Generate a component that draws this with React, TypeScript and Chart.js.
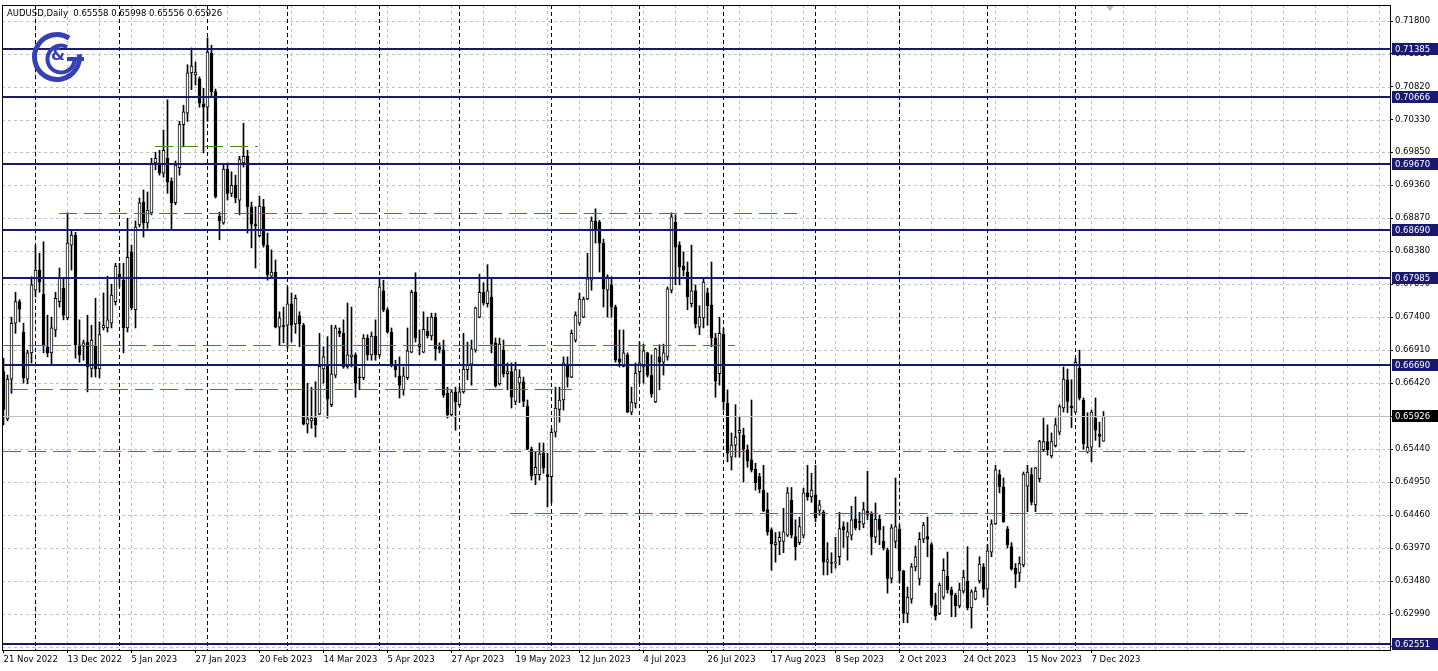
import React, { useEffect, useRef } from 'react';
import { Chart, registerables } from 'chart.js';

Chart.register(...registerables);

// ---------------- data ----------------
const chartTitle = 'AUDUSD,Daily';
const dateLabels = ['21 Nov 2022', '13 Dec 2022', '5 Jan 2023', '27 Jan 2023', '20 Feb 2023', '14 Mar 2023', '5 Apr 2023', '27 Apr 2023', '19 May 2023', '12 Jun 2023', '4 Jul 2023', '26 Jul 2023', '17 Aug 2023', '8 Sep 2023', '2 Oct 2023', '24 Oct 2023', '15 Nov 2023', '7 Dec 2023'];
const barsPerDateLabel = 16;
const barsPerGridLine = 8;
const monthStartBars = [8, 29, 51, 71, 94, 114, 137, 159, 180, 203, 224, 246, 268];
const priceTicks = [0.718, 0.7131, 0.7082, 0.7033, 0.6985, 0.6936, 0.6887, 0.6838, 0.6789, 0.674, 0.6691, 0.6642, 0.6593, 0.6544, 0.6495, 0.6446, 0.6397, 0.6348, 0.6299, 0.625];
const priceMin = 0.62455;
const priceMax = 0.72038;
const barMin = -0.375;
const barMax = 346.625;
const shiftMarkerBar = 276.6;

const opens = [
  0.6659, 0.6589, 0.6648, 0.6731, 0.6763, 0.6718, 0.6648, 0.6687, 0.6780, 0.6810,
  0.6774, 0.6696, 0.6687, 0.6721, 0.6763, 0.6783, 0.6739, 0.6847, 0.6862, 0.6699,
  0.6697, 0.6703, 0.6664, 0.6697, 0.6663, 0.6724, 0.6724, 0.6731, 0.6763, 0.6804,
  0.6795, 0.6724, 0.6837, 0.6751, 0.6877, 0.6911, 0.6880, 0.6895, 0.6969, 0.6969,
  0.6954, 0.6976, 0.6942, 0.6910, 0.6962, 0.7026, 0.7043, 0.7103, 0.7100, 0.7094,
  0.7057, 0.7052, 0.7132, 0.7075, 0.6890, 0.6880, 0.6960, 0.6924, 0.6936, 0.6914,
  0.6969, 0.6979, 0.6904, 0.6877, 0.6861, 0.6904, 0.6847, 0.6801, 0.6807, 0.6725,
  0.6727, 0.6728, 0.6760, 0.6730, 0.6742, 0.6728, 0.6581, 0.6586, 0.6590, 0.6596,
  0.6663, 0.6669, 0.6610, 0.6654, 0.6719, 0.6716, 0.6666, 0.6681, 0.6684, 0.6651,
  0.6650, 0.6709, 0.6684, 0.6712, 0.6684, 0.6779, 0.6751, 0.6718, 0.6669, 0.6653,
  0.6632, 0.6650, 0.6688, 0.6777, 0.6696, 0.6688, 0.6719, 0.6712, 0.6740, 0.6696,
  0.6691, 0.6627, 0.6595, 0.6629, 0.6610, 0.6629, 0.6662, 0.6670, 0.6691, 0.6740,
  0.6777, 0.6760, 0.6770, 0.6702, 0.6641, 0.6691, 0.6656, 0.6659, 0.6615, 0.6642,
  0.6644, 0.6608, 0.6544, 0.6506, 0.6506, 0.6538, 0.6506, 0.6503, 0.6569, 0.6603,
  0.6617, 0.6670, 0.6651, 0.6706, 0.6731, 0.6740, 0.6767, 0.6795, 0.6883, 0.6881,
  0.6850, 0.6780, 0.6788, 0.6755, 0.6678, 0.6667, 0.6684, 0.6599, 0.6612, 0.6659,
  0.6666, 0.6687, 0.6654, 0.6614, 0.6681, 0.6673, 0.6681, 0.6780, 0.6881, 0.6847,
  0.6816, 0.6807, 0.6760, 0.6779, 0.6725, 0.6739, 0.6776, 0.6758, 0.6709, 0.6656,
  0.6715, 0.6612, 0.6532, 0.6550, 0.6568, 0.6565, 0.6543, 0.6528, 0.6514, 0.6503,
  0.6483, 0.6454, 0.6424, 0.6402, 0.6407, 0.6407, 0.6416, 0.6468, 0.6414, 0.6405,
  0.6416, 0.6479, 0.6473, 0.6476, 0.6453, 0.6450, 0.6376, 0.6375, 0.6375, 0.6384,
  0.6429, 0.6413, 0.6416, 0.6440, 0.6436, 0.6433, 0.6452, 0.6449, 0.6413, 0.6440,
  0.6407, 0.6394, 0.6352, 0.6407, 0.6425, 0.6363, 0.6300, 0.6321, 0.6369, 0.6351,
  0.6410, 0.6414, 0.6402, 0.6312, 0.6300, 0.6324, 0.6355, 0.6335, 0.6327, 0.6311,
  0.6333, 0.6348, 0.6308, 0.6321, 0.6348, 0.6369, 0.6336, 0.6391, 0.6433, 0.6506,
  0.6488, 0.6425, 0.6399, 0.6367, 0.6360, 0.6372, 0.6489, 0.6506, 0.6461, 0.6500,
  0.6543, 0.6555, 0.6534, 0.6549, 0.6569, 0.6605, 0.6647, 0.6608, 0.6599, 0.6664,
  0.6617, 0.6540, 0.6547, 0.6590, 0.6566, 0.65558,
];
const highs = [
  0.6679, 0.6654, 0.6740, 0.6777, 0.6766, 0.6731, 0.6691, 0.6800, 0.6847, 0.6835,
  0.6852, 0.6743, 0.6740, 0.6777, 0.6813, 0.6798, 0.6895, 0.6870, 0.6866, 0.6736,
  0.6706, 0.6743, 0.6728, 0.6768, 0.6733, 0.6776, 0.6801, 0.6789, 0.6820, 0.6820,
  0.6820, 0.6887, 0.6847, 0.6883, 0.6917, 0.6929, 0.6926, 0.6976, 0.6985, 0.6988,
  0.7018, 0.7063, 0.6947, 0.6972, 0.7031, 0.7055, 0.7115, 0.7140, 0.7119, 0.7097,
  0.7080, 0.7155, 0.7144, 0.7079, 0.6896, 0.6966, 0.6969, 0.6956, 0.6951, 0.6979,
  0.7028, 0.6988, 0.6911, 0.6904, 0.6920, 0.6915, 0.6865, 0.6840, 0.6825, 0.6748,
  0.6755, 0.6785, 0.6776, 0.6773, 0.6748, 0.6731, 0.6642, 0.6636, 0.6644, 0.6716,
  0.6696, 0.6711, 0.6728, 0.6728, 0.6724, 0.6736, 0.6761, 0.6755, 0.6687, 0.6664,
  0.6714, 0.6714, 0.6718, 0.6736, 0.6797, 0.6795, 0.6754, 0.6724, 0.6676, 0.6681,
  0.6666, 0.6724, 0.6780, 0.6806, 0.6721, 0.6748, 0.6740, 0.6746, 0.6746, 0.6702,
  0.6706, 0.6636, 0.6632, 0.6636, 0.6636, 0.6716, 0.6703, 0.6706, 0.6755, 0.6804,
  0.6791, 0.6818, 0.6798, 0.6709, 0.6709, 0.6706, 0.6672, 0.6672, 0.6673, 0.6662,
  0.6651, 0.6617, 0.6547, 0.6540, 0.6553, 0.6553, 0.6538, 0.6575, 0.6636, 0.6636,
  0.6681, 0.6681, 0.6721, 0.6748, 0.6776, 0.6770, 0.6835, 0.6889, 0.6901, 0.6884,
  0.6856, 0.6803, 0.6800, 0.6758, 0.6721, 0.6721, 0.6687, 0.6636, 0.6672, 0.6703,
  0.6700, 0.6688, 0.6684, 0.6694, 0.6699, 0.6700, 0.6785, 0.6895, 0.6892, 0.6852,
  0.6837, 0.6822, 0.6847, 0.6788, 0.6757, 0.6797, 0.6783, 0.6822, 0.6716, 0.6740,
  0.6724, 0.6632, 0.6568, 0.6610, 0.6592, 0.6575, 0.6550, 0.6617, 0.6523, 0.6508,
  0.6520, 0.6479, 0.6427, 0.6420, 0.6421, 0.6456, 0.6487, 0.6487, 0.6439, 0.6443,
  0.6486, 0.6520, 0.6508, 0.6520, 0.6468, 0.6453, 0.6405, 0.6390, 0.6413, 0.6450,
  0.6436, 0.6435, 0.6459, 0.6473, 0.6450, 0.6465, 0.6511, 0.6451, 0.6464, 0.6446,
  0.6429, 0.6397, 0.6432, 0.6501, 0.6432, 0.6364, 0.6339, 0.6374, 0.6400, 0.6420,
  0.6435, 0.6443, 0.6405, 0.6330, 0.6345, 0.6381, 0.6391, 0.6339, 0.6330, 0.6345,
  0.6364, 0.6399, 0.6335, 0.6339, 0.6384, 0.6374, 0.6402, 0.6439, 0.6520, 0.6513,
  0.6501, 0.6429, 0.6405, 0.6374, 0.6384, 0.6510, 0.6520, 0.6516, 0.6517, 0.6557,
  0.6590, 0.6580, 0.6568, 0.6590, 0.6610, 0.6666, 0.6663, 0.6647, 0.6679, 0.6691,
  0.6620, 0.6598, 0.6602, 0.6620, 0.6584, 0.65998,
];
const lows = [
  0.6580, 0.6586, 0.6627, 0.6716, 0.6733, 0.6642, 0.6641, 0.6672, 0.6770, 0.6777,
  0.6687, 0.6681, 0.6669, 0.6711, 0.6755, 0.6736, 0.6736, 0.6810, 0.6679, 0.6673,
  0.6676, 0.6629, 0.6651, 0.6651, 0.6650, 0.6721, 0.6718, 0.6724, 0.6758, 0.6785,
  0.6687, 0.6718, 0.6751, 0.6724, 0.6874, 0.6859, 0.6872, 0.6892, 0.6959, 0.6951,
  0.6948, 0.6924, 0.6870, 0.6907, 0.6951, 0.6993, 0.7031, 0.7078, 0.7085, 0.7052,
  0.6984, 0.7031, 0.7067, 0.6917, 0.6855, 0.6878, 0.6914, 0.6919, 0.6910, 0.6892,
  0.6963, 0.6865, 0.6843, 0.6813, 0.6859, 0.6844, 0.6795, 0.6798, 0.6724, 0.6699,
  0.6702, 0.6694, 0.6703, 0.6716, 0.6696, 0.6580, 0.6568, 0.6575, 0.6562, 0.6595,
  0.6642, 0.6590, 0.6607, 0.6650, 0.6711, 0.6664, 0.6664, 0.6666, 0.6621, 0.6632,
  0.6647, 0.6676, 0.6676, 0.6676, 0.6681, 0.6748, 0.6716, 0.6666, 0.6651, 0.6620,
  0.6624, 0.6647, 0.6687, 0.6703, 0.6684, 0.6687, 0.6709, 0.6706, 0.6676, 0.6687,
  0.6621, 0.6590, 0.6592, 0.6572, 0.6607, 0.6627, 0.6647, 0.6639, 0.6688, 0.6739,
  0.6758, 0.6755, 0.6687, 0.6636, 0.6639, 0.6651, 0.6632, 0.6605, 0.6610, 0.6613,
  0.6607, 0.6543, 0.6498, 0.6491, 0.6498, 0.6508, 0.6458, 0.6464, 0.6562, 0.6584,
  0.6602, 0.6636, 0.6650, 0.6703, 0.6728, 0.6739, 0.6766, 0.6780, 0.6850, 0.6807,
  0.6755, 0.6740, 0.6740, 0.6673, 0.6666, 0.6666, 0.6598, 0.6595, 0.6605, 0.6642,
  0.6642, 0.6651, 0.6621, 0.6613, 0.6632, 0.6654, 0.6676, 0.6776, 0.6788, 0.6788,
  0.6801, 0.6751, 0.6755, 0.6724, 0.6714, 0.6724, 0.6728, 0.6696, 0.6621, 0.6639,
  0.6602, 0.6525, 0.6513, 0.6532, 0.6532, 0.6495, 0.6517, 0.6510, 0.6483, 0.6479,
  0.6451, 0.6416, 0.6364, 0.6376, 0.6387, 0.6390, 0.6414, 0.6412, 0.6379, 0.6402,
  0.6412, 0.6468, 0.6465, 0.6436, 0.6446, 0.6357, 0.6357, 0.6360, 0.6367, 0.6372,
  0.6398, 0.6379, 0.6409, 0.6424, 0.6424, 0.6427, 0.6439, 0.6387, 0.6405, 0.6402,
  0.6394, 0.6330, 0.6345, 0.6397, 0.6345, 0.6286, 0.6286, 0.6315, 0.6363, 0.6342,
  0.6405, 0.6384, 0.6309, 0.6290, 0.6298, 0.6321, 0.6330, 0.6295, 0.6295, 0.6308,
  0.6330, 0.6305, 0.6278, 0.6320, 0.6345, 0.6324, 0.6312, 0.6384, 0.6432, 0.6479,
  0.6435, 0.6397, 0.6364, 0.6338, 0.6347, 0.6369, 0.6451, 0.6461, 0.6451, 0.6495,
  0.6540, 0.6535, 0.6531, 0.6547, 0.6565, 0.6599, 0.6598, 0.6576, 0.6598, 0.6617,
  0.6544, 0.6538, 0.6525, 0.6557, 0.6547, 0.65556,
];
const closes = [
  0.6603, 0.6648, 0.6731, 0.6763, 0.6752, 0.6650, 0.6687, 0.6788, 0.6810, 0.6792,
  0.6699, 0.6687, 0.6724, 0.6768, 0.6798, 0.6743, 0.6850, 0.6862, 0.6699, 0.6684,
  0.6702, 0.6666, 0.6706, 0.6663, 0.6714, 0.6728, 0.6736, 0.6773, 0.6816, 0.6798,
  0.6724, 0.6829, 0.6754, 0.6874, 0.6910, 0.6880, 0.6899, 0.6969, 0.6976, 0.6954,
  0.6988, 0.6941, 0.6910, 0.6966, 0.7026, 0.7045, 0.7103, 0.7113, 0.7104, 0.7058,
  0.7052, 0.7134, 0.7075, 0.6919, 0.6883, 0.6960, 0.6924, 0.6936, 0.6917, 0.6974,
  0.6979, 0.6904, 0.6878, 0.6876, 0.6905, 0.6847, 0.6803, 0.6807, 0.6725, 0.6739,
  0.6726, 0.6760, 0.6728, 0.6768, 0.6730, 0.6581, 0.6589, 0.6590, 0.6580, 0.6667,
  0.6681, 0.6618, 0.6656, 0.6724, 0.6716, 0.6666, 0.6684, 0.6684, 0.6642, 0.6650,
  0.6709, 0.6684, 0.6712, 0.6684, 0.6785, 0.6751, 0.6718, 0.6669, 0.6662, 0.6639,
  0.6653, 0.6690, 0.6777, 0.6709, 0.6700, 0.6722, 0.6712, 0.6740, 0.6693, 0.6692,
  0.6624, 0.6595, 0.6629, 0.6614, 0.6629, 0.6663, 0.6669, 0.6693, 0.6754, 0.6777,
  0.6761, 0.6779, 0.6700, 0.6638, 0.6700, 0.6656, 0.6659, 0.6621, 0.6662, 0.6651,
  0.6615, 0.6544, 0.6504, 0.6517, 0.6537, 0.6516, 0.6503, 0.6569, 0.6605, 0.6617,
  0.6672, 0.6651, 0.6716, 0.6743, 0.6767, 0.6767, 0.6797, 0.6883, 0.6870, 0.6850,
  0.6782, 0.6800, 0.6755, 0.6676, 0.6673, 0.6687, 0.6599, 0.6614, 0.6657, 0.6672,
  0.6690, 0.6654, 0.6626, 0.6693, 0.6673, 0.6687, 0.6782, 0.6889, 0.6844, 0.6815,
  0.6810, 0.6770, 0.6779, 0.6730, 0.6740, 0.6792, 0.6757, 0.6709, 0.6645, 0.6716,
  0.6614, 0.6538, 0.6550, 0.6562, 0.6572, 0.6544, 0.6526, 0.6513, 0.6494, 0.6485,
  0.6452, 0.6421, 0.6403, 0.6405, 0.6413, 0.6421, 0.6479, 0.6416, 0.6399, 0.6429,
  0.6479, 0.6473, 0.6483, 0.6442, 0.6461, 0.6376, 0.6380, 0.6374, 0.6376, 0.6426,
  0.6424, 0.6421, 0.6439, 0.6427, 0.6435, 0.6454, 0.6447, 0.6413, 0.6440, 0.6424,
  0.6397, 0.6352, 0.6427, 0.6429, 0.6363, 0.6300, 0.6324, 0.6369, 0.6384, 0.6410,
  0.6431, 0.6410, 0.6312, 0.6296, 0.6342, 0.6364, 0.6335, 0.6327, 0.6311, 0.6335,
  0.6354, 0.6308, 0.6332, 0.6333, 0.6373, 0.6336, 0.6393, 0.6433, 0.6513, 0.6488,
  0.6436, 0.6402, 0.6366, 0.6358, 0.6374, 0.6507, 0.6510, 0.6465, 0.6516, 0.6555,
  0.6555, 0.6543, 0.6555, 0.6580, 0.6607, 0.6648, 0.6615, 0.6605, 0.6673, 0.6620,
  0.6552, 0.6547, 0.6599, 0.6572, 0.6563, 0.65926,
];

const blueLevels = [0.71385, 0.70666, 0.6967, 0.6869, 0.67985, 0.6669, 0.62551];
const bidPrice = 0.65926;
const greenLevels = [0.69943, 0.68948, 0.66986, 0.66333, 0.65412, 0.64491];
const greenFromBar = [37.9, 13.9, -0.1, 1.6, -0.1, 126.6];
const greenToBar = [63.6, 198.4, 182.9, 142.1, 310.4, 311.1];

// ---------------- styles ----------------
const FONT = '8.5px "DejaVu Sans"';
const GRID = '#c0c0c0';
const NAVY = '#191970';
const GREEN = '#3f8c00';
const LOGO = '#3541b2';

function drawLogo(ctx: CanvasRenderingContext2D) {
  ctx.save();
  ctx.strokeStyle = LOGO;
  ctx.fillStyle = LOGO;
  ctx.lineCap = 'butt';
  // outer "C"
  ctx.lineWidth = 5;
  ctx.beginPath();
  ctx.arc(57, 57, 22.5, -1.0, -0.12, true);
  ctx.stroke();
  // inner "G"
  ctx.lineWidth = 4;
  ctx.beginPath();
  ctx.arc(61, 59, 13.5, -1.1, 0, true);
  ctx.stroke();
  ctx.beginPath();
  ctx.moveTo(84, 59);
  ctx.lineTo(67, 59);
  ctx.stroke();
  // "&"
  ctx.font = 'bold 16px "DejaVu Sans"';
  ctx.textAlign = 'center';
  ctx.textBaseline = 'middle';
  ctx.fillText('&', 58, 56);
  ctx.restore();
}

const mtPlugin = {
  id: 'mt4look',
  beforeDraw(chart: any) {
    const ctx = chart.ctx;
    ctx.save();
    ctx.fillStyle = '#ffffff';
    ctx.fillRect(0, 0, chart.width, chart.height);
    ctx.restore();
  },
  beforeDatasetsDraw(chart: any) {
    const { ctx, chartArea: a, scales } = chart;
    const xs = scales.x;
    const ys = scales.y;
    ctx.save();
    ctx.beginPath();
    ctx.rect(a.left, a.top, a.right - a.left, a.bottom - a.top);
    ctx.clip();
    ctx.lineWidth = 1;
    ctx.strokeStyle = GRID;
    ctx.setLineDash([3, 3]);
    for (const p of priceTicks) {
      const y = Math.round(ys.getPixelForValue(p)) + 0.5;
      ctx.beginPath();
      ctx.moveTo(a.left, y);
      ctx.lineTo(a.right, y);
      ctx.stroke();
    }
    for (let b = barsPerGridLine; b < barMax; b += barsPerGridLine) {
      const x = Math.floor(xs.getPixelForValue(b)) + 0.5;
      ctx.beginPath();
      ctx.moveTo(x, a.top);
      ctx.lineTo(x, a.bottom);
      ctx.stroke();
    }
    ctx.strokeStyle = '#000000';
    ctx.setLineDash([4, 3]);
    for (const b of monthStartBars) {
      const x = Math.floor(xs.getPixelForValue(b)) + 0.5;
      ctx.beginPath();
      ctx.moveTo(x, a.top);
      ctx.lineTo(x, a.bottom);
      ctx.stroke();
    }
    ctx.restore();
  },
  afterDatasetsDraw(chart: any) {
    const { ctx, chartArea: a, scales } = chart;
    const xs = scales.x;
    const ys = scales.y;
    ctx.save();
    ctx.beginPath();
    ctx.rect(a.left, a.top, a.right - a.left, a.bottom - a.top);
    ctx.clip();
    // bid line
    ctx.lineWidth = 1;
    ctx.strokeStyle = GRID;
    ctx.setLineDash([]);
    const y = Math.round(ys.getPixelForValue(bidPrice)) + 0.5;
    ctx.beginPath();
    ctx.moveTo(a.left, y);
    ctx.lineTo(a.right, y);
    ctx.stroke();
    // green dashed levels
    ctx.strokeStyle = GREEN;
    ctx.setLineDash([18, 7]);
    greenLevels.forEach((p, k) => {
      const yy = Math.round(ys.getPixelForValue(p)) + 0.5;
      ctx.beginPath();
      ctx.moveTo(xs.getPixelForValue(greenFromBar[k]), yy);
      ctx.lineTo(xs.getPixelForValue(greenToBar[k]), yy);
      ctx.stroke();
    });
    // blue levels
    ctx.setLineDash([]);
    ctx.strokeStyle = NAVY;
    ctx.lineWidth = 2;
    for (const p of blueLevels) {
      const yy = Math.round(ys.getPixelForValue(p));
      ctx.beginPath();
      ctx.moveTo(a.left, yy);
      ctx.lineTo(a.right, yy);
      ctx.stroke();
    }
    ctx.restore();

    // header text
    ctx.save();
    ctx.font = FONT;
    ctx.fillStyle = '#000000';
    ctx.textBaseline = 'middle';
    ctx.textAlign = 'left';
    const last = opens.length - 1;
    const header = `${chartTitle}  ${opens[last].toFixed(5)} ${highs[last].toFixed(5)} ${lows[last].toFixed(5)} ${closes[last].toFixed(5)}`;
    ctx.fillText(header, 7, 13.5);
    ctx.restore();
    drawLogo(ctx);
  },
  afterDraw(chart: any) {
    const { ctx, chartArea: a, scales } = chart;
    const xs = scales.x;
    const ys = scales.y;
    ctx.save();
    ctx.font = FONT;
    ctx.textBaseline = 'middle';
    ctx.textAlign = 'left';
    const box = (p: number, bg: string) => {
      const yy = Math.round(ys.getPixelForValue(p));
      ctx.fillStyle = bg;
      ctx.fillRect(a.right + 2, yy - 6, 46, 12);
      ctx.fillStyle = '#ffffff';
      ctx.fillText(p.toFixed(5), a.right + 5, yy + 0.5);
    };
    for (const p of blueLevels) box(p, NAVY);
    box(bidPrice, '#000000');
    // frame
    ctx.strokeStyle = '#000000';
    ctx.lineWidth = 1;
    ctx.strokeRect(a.left + 0.5, a.top + 0.5, a.right - a.left, a.bottom - a.top);
    // chart shift marker
    const sx = Math.round(xs.getPixelForValue(shiftMarkerBar));
    ctx.fillStyle = '#c0c0c0';
    ctx.beginPath();
    ctx.moveTo(sx - 4, a.top + 1);
    ctx.lineTo(sx + 4, a.top + 1);
    ctx.lineTo(sx, a.top + 6);
    ctx.closePath();
    ctx.fill();
    ctx.restore();
  },
};

export default function App() {
  const ref = useRef<HTMLCanvasElement>(null);
  useEffect(() => {
    const canvas = ref.current;
    if (!canvas) return;
    const idx = opens.map((_, i) => i);
    const chart = new Chart(canvas, {
      type: 'bar',
      data: {
        datasets: [
          {
            label: 'bodies',
            data: idx.map((i) => ({ x: i, y: [opens[i], closes[i]] })) as any,
            backgroundColor: idx.map((i) => (closes[i] >= opens[i] ? '#ffffff' : '#000000')),
            borderColor: '#000000',
            borderWidth: 1,
            borderSkipped: false,
            barThickness: 3,
            minBarLength: 1,
            grouped: false,
            order: 1,
          } as any,
          {
            label: 'wicks',
            data: idx.map((i) => ({ x: i, y: [lows[i], highs[i]] })) as any,
            backgroundColor: '#000000',
            borderWidth: 0,
            barThickness: 1,
            grouped: false,
            order: 2,
          } as any,
        ],
      },
      options: {
        animation: false,
        responsive: false,
        devicePixelRatio: 1,
        events: [],
        layout: { padding: { left: 2, top: 5, right: 0, bottom: 0 } },
        plugins: { legend: { display: false }, tooltip: { enabled: false }, title: { display: false } },
        scales: {
          x: {
            type: 'linear',
            position: 'bottom',
            min: barMin,
            max: barMax,
            offset: false,
            bounds: 'data',
            grid: { display: true, drawOnChartArea: false, drawTicks: true, tickLength: 3, color: '#000000', offset: false },
            border: { display: false },
            afterBuildTicks: (scale: any) => {
              scale.ticks = dateLabels.map((_, k) => ({ value: k * barsPerDateLabel }));
            },
            afterFit: (scale: any) => {
              scale.height = 21;
              scale.paddingLeft = 0;
              scale.paddingRight = 0;
            },
            ticks: {
              autoSkip: false,
              maxRotation: 0,
              minRotation: 0,
              align: 'start',
              padding: 2,
              color: '#000000',
              font: { family: 'DejaVu Sans', size: 8.5 },
              callback: (_v: any, i: number) => dateLabels[i],
            },
          },
          y: {
            type: 'linear',
            position: 'right',
            min: priceMin,
            max: priceMax,
            beginAtZero: false,
            bounds: 'data',
            grid: { display: true, drawOnChartArea: false, drawTicks: true, tickLength: 3, color: '#000000' },
            border: { display: false },
            afterBuildTicks: (scale: any) => {
              scale.ticks = priceTicks.map((v) => ({ value: v }));
            },
            afterFit: (scale: any) => {
              scale.width = 48;
              scale.paddingTop = 0;
              scale.paddingBottom = 0;
            },
            ticks: {
              autoSkip: false,
              padding: 2,
              color: '#000000',
              font: { family: 'DejaVu Sans', size: 8.5 },
              callback: (v: any) => Number(v).toFixed(5),
            },
          },
        },
      } as any,
      plugins: [mtPlugin as any],
    });
    return () => chart.destroy();
  }, []);
  return (
    <div style={{ position: 'fixed', left: 0, top: 0, width: 1438, height: 671, background: '#ffffff' }}>
      <canvas ref={ref} width={1438} height={671} style={{ display: 'block', width: 1438, height: 671 }} />
    </div>
  );
}
